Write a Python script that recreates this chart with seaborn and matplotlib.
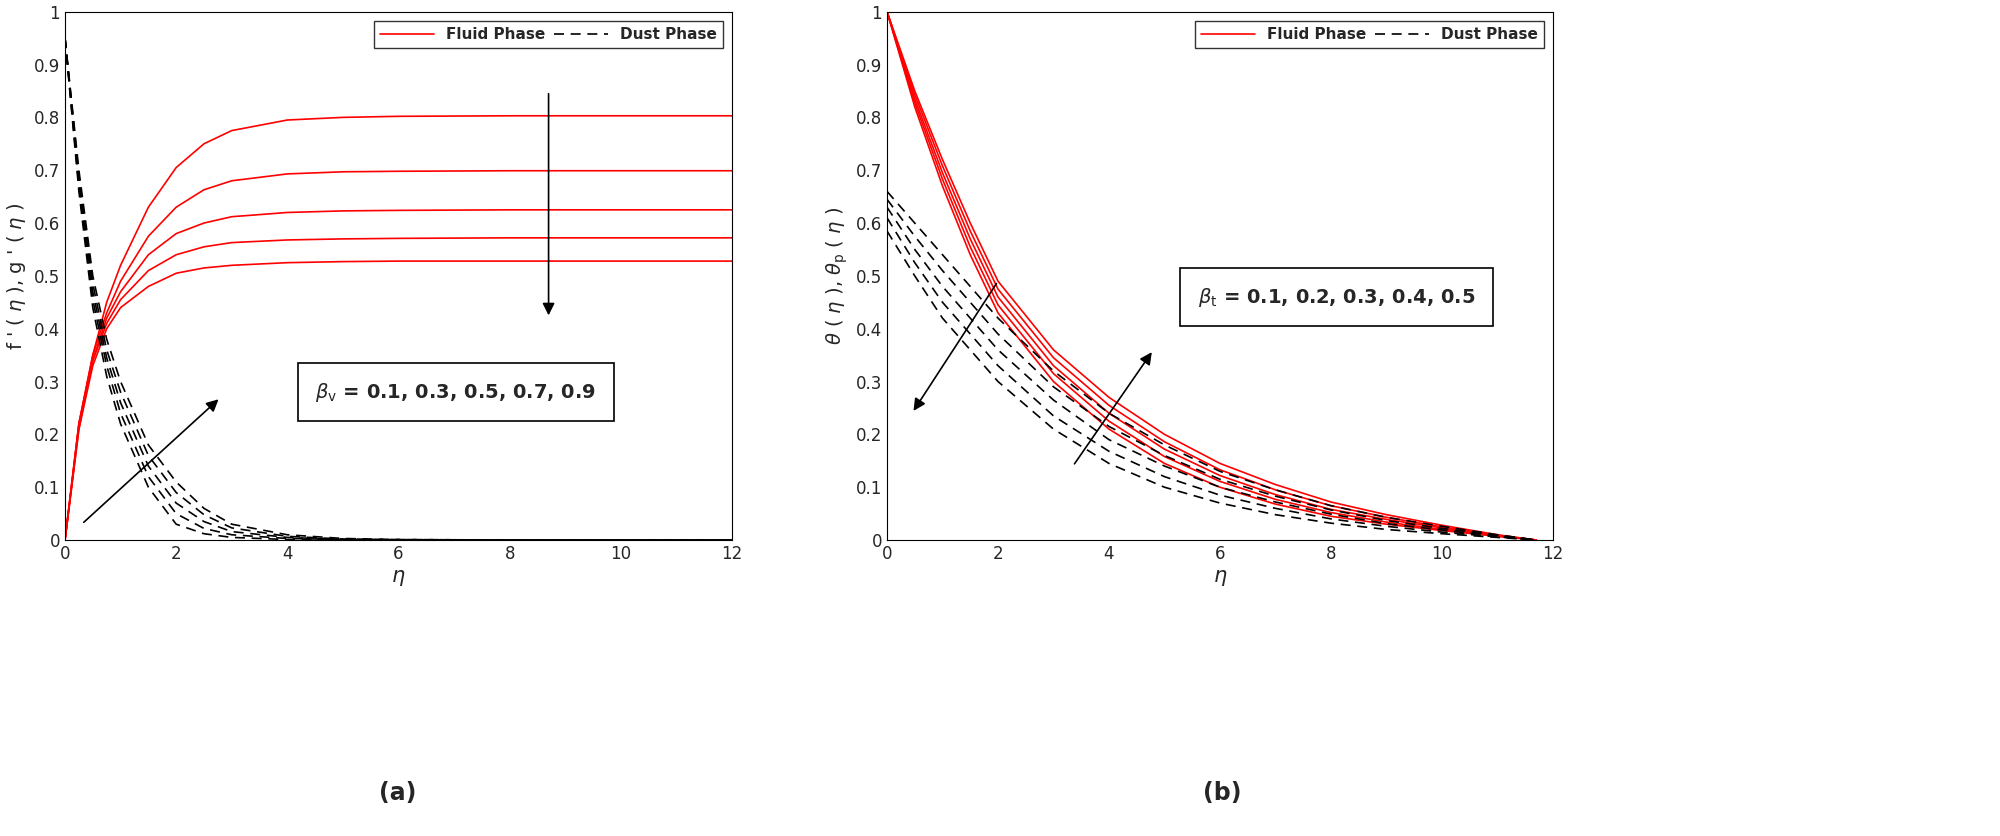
import numpy as np
import pandas as pd
import matplotlib
matplotlib.use("Agg")
import matplotlib.pyplot as plt
import seaborn as sns

sns.set_style("white")

# panel (a): velocity profiles
eta_a = [0, 0.25, 0.5, 0.75, 1, 1.5, 2, 2.5, 3, 4, 5, 6, 8, 10, 12]
fluid_a = [
    [0, 0.22, 0.35, 0.45, 0.52, 0.63, 0.705, 0.75, 0.775, 0.795, 0.80, 0.802, 0.803, 0.803, 0.803],
    [0, 0.22, 0.35, 0.43, 0.49, 0.575, 0.63, 0.663, 0.68, 0.693, 0.697, 0.698, 0.699, 0.699, 0.699],
    [0, 0.22, 0.34, 0.42, 0.47, 0.54, 0.58, 0.60, 0.612, 0.62, 0.623, 0.624, 0.625, 0.625, 0.625],
    [0, 0.21, 0.34, 0.41, 0.455, 0.51, 0.54, 0.555, 0.563, 0.568, 0.570, 0.571, 0.572, 0.572, 0.572],
    [0, 0.21, 0.33, 0.40, 0.44, 0.48, 0.505, 0.515, 0.52, 0.525, 0.527, 0.528, 0.528, 0.528, 0.528],
]
dust_a = [
    [0.95, 0.66, 0.44, 0.31, 0.22, 0.10, 0.030, 0.012, 0.005, 0.001, 0, 0, 0, 0, 0],
    [0.95, 0.67, 0.455, 0.33, 0.24, 0.12, 0.050, 0.022, 0.010, 0.003, 0.001, 0, 0, 0, 0],
    [0.95, 0.68, 0.47, 0.345, 0.26, 0.14, 0.070, 0.035, 0.016, 0.005, 0.001, 0, 0, 0, 0],
    [0.95, 0.69, 0.485, 0.36, 0.28, 0.16, 0.090, 0.048, 0.023, 0.007, 0.002, 0.001, 0, 0, 0],
    [0.95, 0.70, 0.50, 0.38, 0.30, 0.18, 0.110, 0.060, 0.030, 0.010, 0.003, 0.001, 0, 0, 0],
]

# panel (b): temperature profiles
eta_b = [0, 0.5, 1, 1.5, 2, 3, 4, 5, 6, 7, 8, 9, 10, 11, 11.7]
fluid_b = [
    [1, 0.82, 0.67, 0.54, 0.43, 0.30, 0.21, 0.145, 0.10, 0.068, 0.045, 0.030, 0.018, 0.007, 0],
    [1, 0.828, 0.683, 0.555, 0.445, 0.315, 0.225, 0.158, 0.111, 0.077, 0.052, 0.034, 0.020, 0.008, 0],
    [1, 0.835, 0.695, 0.57, 0.46, 0.33, 0.24, 0.172, 0.122, 0.086, 0.058, 0.039, 0.023, 0.008, 0],
    [1, 0.843, 0.708, 0.585, 0.475, 0.345, 0.255, 0.186, 0.133, 0.095, 0.065, 0.043, 0.025, 0.009, 0],
    [1, 0.85, 0.72, 0.60, 0.49, 0.36, 0.27, 0.20, 0.145, 0.105, 0.072, 0.048, 0.028, 0.010, 0],
]
dust_b = [
    [0.66, 0.60, 0.54, 0.48, 0.42, 0.32, 0.24, 0.18, 0.13, 0.095, 0.065, 0.043, 0.026, 0.010, 0],
    [0.645, 0.575, 0.51, 0.45, 0.39, 0.29, 0.215, 0.16, 0.115, 0.083, 0.057, 0.037, 0.022, 0.009, 0],
    [0.63, 0.55, 0.48, 0.42, 0.36, 0.265, 0.19, 0.14, 0.10, 0.072, 0.049, 0.031, 0.019, 0.007, 0],
    [0.61, 0.525, 0.45, 0.39, 0.33, 0.235, 0.168, 0.12, 0.085, 0.06, 0.04, 0.026, 0.015, 0.006, 0],
    [0.585, 0.50, 0.42, 0.36, 0.30, 0.21, 0.145, 0.10, 0.07, 0.048, 0.032, 0.020, 0.012, 0.005, 0],
]

fig = plt.figure(figsize=(20, 8.36), dpi=100)
ax1 = fig.add_axes([0.0325, 0.354, 0.3335, 0.632])
ax2 = fig.add_axes([0.4435, 0.354, 0.333, 0.632])


def draw(ax, eta, fluid, dust):
    for i, ys in enumerate(fluid):
        sns.lineplot(x=eta, y=ys, ax=ax, color="red", lw=1.2,
                     label="Fluid Phase" if i == 0 else None)
    for i, ys in enumerate(dust):
        sns.lineplot(x=eta, y=ys, ax=ax, color="black", lw=1.2, linestyle=(0, (6, 4)),
                     label="Dust Phase" if i == 0 else None)
    ax.set_xlim(0, 12)
    ax.set_ylim(0, 1)
    ax.set_xticks(range(0, 13, 2))
    ax.set_yticks(np.arange(0, 1.01, 0.1))
    ax.set_yticklabels(["0"] + [f"{v:.1f}" for v in np.arange(0.1, 0.95, 0.1)] + ["1"])
    ax.tick_params(labelsize=12, direction="in", length=4)
    for s in ax.spines.values():
        s.set_color("black")
    ax.set_xlabel(r"$\eta$", fontsize=15)
    leg = ax.legend(loc="upper right", ncol=2, fancybox=False, edgecolor="black",
                    prop={"weight": "bold", "size": 11},
                    handlelength=3.5, columnspacing=0.6, borderaxespad=0.6)
    leg.get_frame().set_linewidth(1.0)


draw(ax1, eta_a, fluid_a, dust_a)
draw(ax2, eta_b, fluid_b, dust_b)

ax1.set_ylabel(r"f ' ( $\eta$ ), g ' ( $\eta$ )", fontsize=14)
ax2.set_ylabel(r"$\theta$ ( $\eta$ ), $\theta_{\rm p}$ ( $\eta$ )", fontsize=14)

arr = dict(arrowstyle="-|>", color="black", lw=1.2, mutation_scale=18)
ax1.annotate("", xy=(8.7, 0.42), xytext=(8.7, 0.85), arrowprops=arr)
ax1.annotate("", xy=(2.8, 0.27), xytext=(0.3, 0.03), arrowprops=arr)
ax2.annotate("", xy=(0.45, 0.24), xytext=(2.0, 0.49), arrowprops=arr)
ax2.annotate("", xy=(4.8, 0.36), xytext=(3.35, 0.14), arrowprops=arr)

box = dict(boxstyle="square,pad=0.9", fc="white", ec="black", lw=1.2)
ax1.text(4.5, 0.28, r"$\beta_{\rm v}$ = 0.1, 0.3, 0.5, 0.7, 0.9", fontsize=14,
         fontweight="bold", va="center", bbox=box)
ax2.text(5.6, 0.46, r"$\beta_{\rm t}$ = 0.1, 0.2, 0.3, 0.4, 0.5", fontsize=14,
         fontweight="bold", va="center", bbox=box)

fig.text(0.199, 0.043, "(a)", ha="center", fontsize=17, fontweight="bold")
fig.text(0.611, 0.043, "(b)", ha="center", fontsize=17, fontweight="bold")

fig.savefig("out.png", dpi=100)
